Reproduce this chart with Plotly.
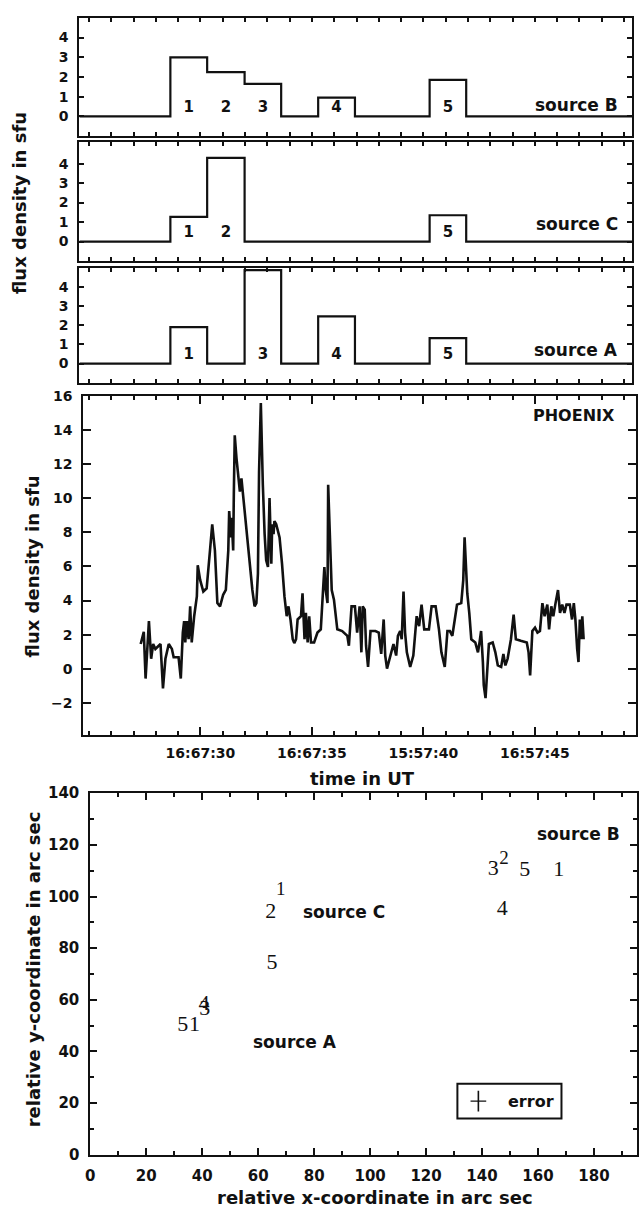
import plotly.graph_objects as go

# ---------------------------------------------------------------------------
# Time axis: seconds after 16:57:00 UT
# ---------------------------------------------------------------------------
interval_names = ["1", "2", "3", "4", "5"]
interval_start = [28.65, 30.30, 31.98, 35.28, 40.28]
interval_end = [30.30, 31.98, 33.62, 36.93, 41.92]

# Mean flux density (sfu) of each source in each interval
flux_B = [3.00, 2.25, 1.65, 0.95, 1.85]
flux_C = [1.27, 4.30, 0.00, 0.00, 1.35]
flux_A = [1.90, 0.00, 4.87, 2.46, 1.33]

# PHOENIX total flux density (sfu)
phoenix_t = [
    27.32, 27.43, 27.46, 27.54, 27.61, 27.69, 27.79, 27.88, 27.98, 28.21,
    28.32, 28.43, 28.58, 28.72, 28.80, 29.02, 29.12, 29.21, 29.27, 29.32,
    29.39, 29.47, 29.54, 29.61, 29.72, 29.84, 29.88, 29.99, 30.13, 30.28,
    30.43, 30.53, 30.65, 30.76, 30.88, 31.02, 31.14, 31.25, 31.29, 31.37,
    31.40, 31.47, 31.50, 31.54, 31.62, 31.69, 31.77, 31.84, 31.91, 31.99,
    32.06, 32.21, 32.33, 32.43, 32.51, 32.58, 32.63, 32.71, 32.76, 32.80,
    32.88, 32.95, 33.03, 33.10, 33.18, 33.22, 33.28, 33.32, 33.40, 33.55,
    33.66, 33.77, 33.87, 33.95, 34.04, 34.14, 34.21, 34.29, 34.36, 34.51,
    34.58, 34.67, 34.73, 34.81, 34.88, 34.96, 35.10, 35.25, 35.40, 35.50,
    35.56, 35.62, 35.70, 35.73, 35.82, 35.89, 35.99, 36.14, 36.36, 36.59,
    36.66, 36.78, 36.93, 37.03, 37.14, 37.22, 37.28, 37.37, 37.43, 37.52,
    37.63, 37.85, 38.00, 38.11, 38.22, 38.29, 38.37, 38.51, 38.66, 38.78,
    38.86, 38.96, 39.03, 39.11, 39.18, 39.26, 39.41, 39.55, 39.70, 39.81,
    39.92, 40.04, 40.25, 40.37, 40.55, 40.70, 40.81, 40.96, 41.08, 41.19,
    41.30, 41.41, 41.51, 41.70, 41.79, 41.85, 41.93, 41.97, 42.06, 42.15,
    42.33, 42.45, 42.52, 42.59, 42.67, 42.71, 42.79, 42.85, 42.94, 43.11,
    43.23, 43.34, 43.49, 43.59, 43.68, 43.78, 43.93, 44.05, 44.15, 44.37,
    44.64, 44.72, 44.79, 44.89, 45.01, 45.12, 45.23, 45.34, 45.44, 45.56,
    45.64, 45.74, 45.83, 45.93, 46.04, 46.13, 46.23, 46.33, 46.42, 46.57,
    46.67, 46.75, 46.82, 46.90, 46.96, 47.02, 47.08, 47.13, 47.19,
]
phoenix_flux = [
    1.45, 2.12, 2.16, -0.58, 1.35, 2.79, 0.58, 1.45, 1.16, 1.45,
    -1.16, 0.58, 1.45, 1.16, 0.67, 0.67, -0.58, 2.12, 2.79, 1.54,
    2.79, 1.73, 3.66, 1.54, 3.08, 4.24, 6.07, 5.20, 4.53, 4.72,
    6.94, 8.48, 6.94, 3.85, 3.66, 4.34, 4.62, 6.94, 9.25, 7.71,
    8.86, 6.94, 10.40, 13.70, 12.33, 11.37, 10.40, 11.18, 10.21, 9.06,
    7.90, 6.17, 4.62, 3.66, 3.85, 5.59, 11.56, 15.60, 11.75, 10.79,
    7.90, 6.36, 5.97, 10.02, 6.17, 8.48, 7.90, 8.67, 8.48, 7.71,
    6.17, 4.24, 3.08, 3.66, 2.89, 1.73, 1.50, 1.73, 2.89, 3.08,
    4.43, 1.73, 3.28, 1.54, 3.08, 1.54, 1.54, 2.12, 2.31, 4.62,
    5.97, 4.62, 3.85, 10.80, 7.51, 4.62, 4.05, 2.31, 2.21, 1.93,
    1.35, 3.66, 3.66, 2.12, 3.66, 0.96, 3.66, 3.47, 1.35, 0.10,
    2.21, 2.21, 2.12, 0.87, 2.89, 0.77, 0.00, 0.77, 1.45, 0.77,
    1.93, 2.21, 1.73, 4.53, 2.12, 0.96, 0.10, 0.77, 3.08, 2.50,
    3.76, 2.31, 2.31, 3.66, 3.66, 2.31, 0.96, 0.10, 2.21, 2.21,
    1.93, 2.89, 3.76, 3.85, 5.20, 7.71, 5.97, 4.43, 3.28, 1.73,
    1.54, 0.96, 1.54, 2.21, 0.39, -0.96, -1.73, -0.19, 1.45, 1.54,
    0.96, 0.19, 0.10, 0.87, 0.19, 0.58, 1.73, 3.18, 1.73, 1.64,
    1.54, 0.96, -0.39, 2.21, 2.41, 2.12, 2.21, 3.85, 3.08, 3.76,
    2.31, 3.66, 3.08, 3.85, 4.62, 3.28, 3.76, 3.28, 3.76, 3.76,
    2.89, 3.85, 2.89, 1.16, 0.39, 2.89, 1.73, 3.08, 1.73,
]

time_tickvals = [30, 35, 40, 45]
time_ticktext = ["16:67:30", "16:67:35", "15:57:40", "16:57:45"]

# Source positions (arc sec) for each interval in which the source emits
pos_A_label = ["1", "3", "4", "5"]
pos_A_x = [37.2, 40.9, 40.6, 33.0]
pos_A_y = [50.1, 56.4, 58.3, 50.1]

pos_B_label = ["1", "2", "3", "4", "5"]
pos_B_x = [167.4, 147.9, 144.0, 147.2, 155.3]
pos_B_y = [110.1, 114.3, 110.5, 94.8, 110.1]

pos_C_label = ["1", "2", "5"]
pos_C_x = [68.1, 64.5, 64.9]
pos_C_y = [102.5, 93.7, 74.2]

# ---------------------------------------------------------------------------
SANS = "DejaVu Sans"
SERIF = "Liberation Serif"
BLACK = "#111111"
T_MIN_TOP, T_MAX_TOP = 24.57, 49.36
T_MIN_PH, T_MAX_PH = 24.75, 49.54


def step_series(values, t_min, t_max):
    """Piecewise-constant light curve built from the interval table."""
    breaks = {}
    for s, e, v in zip(interval_start, interval_end, values):
        breaks[round(e, 3)] = breaks.get(round(e, 3), 0.0)
        breaks[round(s, 3)] = v
    xs, ys = [t_min], [0.0]
    for t in sorted(breaks):
        xs.append(t)
        ys.append(breaks[t])
    xs.append(t_max)
    ys.append(0.0)
    return xs, ys


W, H = 639, 1217


def px_x(p):
    return p / W


def px_y(p):
    return 1 - p / H


fig = go.Figure()

panels = [("B", flux_B, "x", "y"), ("C", flux_C, "x2", "y2"), ("A", flux_A, "x3", "y3")]
for name, vals, xa, ya in panels:
    xs, ys = step_series(vals, T_MIN_TOP, T_MAX_TOP)
    fig.add_trace(go.Scatter(x=xs, y=ys, mode="lines", line_shape="hv",
                             line=dict(color=BLACK, width=2.2),
                             xaxis=xa, yaxis=ya, showlegend=False, hoverinfo="skip"))
    lab_x = [(s + e) / 2 for s, e, v in zip(interval_start, interval_end, vals) if v > 0]
    lab_t = [n for n, v in zip(interval_names, vals) if v > 0]
    fig.add_trace(go.Scatter(x=lab_x, y=[0.42] * len(lab_x), mode="text", text=lab_t,
                             textfont=dict(family=SANS, size=15, color=BLACK, weight="bold"),
                             xaxis=xa, yaxis=ya, showlegend=False, hoverinfo="skip"))

fig.add_trace(go.Scatter(x=phoenix_t, y=phoenix_flux, mode="lines",
                         line=dict(color=BLACK, width=2.6),
                         xaxis="x4", yaxis="y4", showlegend=False, hoverinfo="skip"))

for labels, xs, ys, small in [
    (pos_A_label, pos_A_x, pos_A_y, set()),
    (pos_B_label, pos_B_x, pos_B_y, {"2"}),
    (pos_C_label, pos_C_x, pos_C_y, {"1"}),
]:
    sizes = [19 if lab in small else 22 for lab in labels]
    fig.add_trace(go.Scatter(x=xs, y=ys, mode="text", text=labels,
                             textfont=dict(family=SERIF, size=sizes, color=BLACK),
                             xaxis="x5", yaxis="y5", showlegend=False, hoverinfo="skip"))

# error indicator inside the key box
fig.add_trace(go.Scatter(x=[138.7], y=[20.8], mode="markers",
                         marker=dict(size=1, color=BLACK),
                         error_y=dict(type="data", array=[4.0], color=BLACK, thickness=1.6, width=0),
                         error_x=dict(type="data", array=[2.8], color=BLACK, thickness=1.2, width=0),
                         xaxis="x5", yaxis="y5", showlegend=False, hoverinfo="skip"))

tick_font = dict(family=SANS, size=14, color=BLACK, weight="bold")
frame = dict(showline=True, linecolor=BLACK, linewidth=2, mirror="allticks",
             ticks="inside", tickcolor=BLACK, tickwidth=1.5, showgrid=False, zeroline=False)


def top_x(dom_y_anchor):
    return dict(frame, domain=[px_x(75), px_x(632)], range=[T_MIN_TOP, T_MAX_TOP],
                tickmode="linear", tick0=0, dtick=1, ticklen=4, showticklabels=False,
                anchor=dom_y_anchor)


def top_y(top, bottom, rng, anchor):
    return dict(frame, domain=[px_y(bottom), px_y(top)], range=rng,
                tickmode="array", tickvals=[0, 1, 2, 3, 4], ticklen=5,
                tickfont=tick_font, ticklabelstandoff=6, anchor=anchor)


fig.update_layout(
    width=W, height=H, margin=dict(l=0, r=0, t=0, b=0),
    paper_bgcolor="white", plot_bgcolor="white",
    xaxis=top_x("y"),
    yaxis=top_y(9, 129, [-1.0, 5.0], "x"),
    xaxis2=top_x("y2"),
    yaxis2=top_y(135, 256, [-1.01, 5.11], "x2"),
    xaxis3=top_x("y3"),
    yaxis3=top_y(263, 380, [-1.03, 4.97], "x3"),
    xaxis4=dict(frame, domain=[px_x(79), px_x(636)], range=[T_MIN_PH, T_MAX_PH],
                tickmode="array", tickvals=time_tickvals, ticktext=time_ticktext,
                ticklen=8, tickfont=dict(tick_font, size=14), ticklabelstandoff=4,
                minor=dict(tickmode="linear", tick0=0, dtick=1, ticks="inside",
                           ticklen=4, tickcolor=BLACK, tickwidth=1.5),
                anchor="y4"),
    yaxis4=dict(frame, domain=[px_y(737), px_y(393)], range=[-3.9, 16],
                tickmode="array", tickvals=list(range(-2, 17, 2)), ticklen=8,
                tickfont=tick_font, ticklabelstandoff=6, anchor="x4"),
    xaxis5=dict(frame, domain=[px_x(86), px_x(637)], range=[0, 195.4],
                tickmode="array", tickvals=list(range(0, 181, 20)), ticklen=7,
                tickfont=dict(tick_font, size=15), ticklabelstandoff=6,
                minor=dict(tickmode="linear", tick0=0, dtick=10, ticks="inside",
                           ticklen=4, tickcolor=BLACK, tickwidth=1.5),
                anchor="y5"),
    yaxis5=dict(frame, domain=[px_y(1163), px_y(796)], range=[0, 140],
                tickmode="array", tickvals=list(range(0, 141, 20)), ticklen=7,
                tickfont=dict(tick_font, size=15), ticklabelstandoff=6,
                minor=dict(tickmode="linear", tick0=0, dtick=10, ticks="inside",
                           ticklen=4, tickcolor=BLACK, tickwidth=1.5),
                anchor="x5"),
)

title_font = dict(family=SANS, size=18, color=BLACK, weight="bold")
label_font = dict(family=SANS, size=17, color=BLACK, weight="bold")

annotations = [
    dict(text="flux density in sfu", xref="paper", yref="paper", x=px_x(14), y=px_y(197),
         textangle=-90, font=title_font),
    dict(text="flux density in sfu", xref="paper", yref="paper", x=px_x(28), y=px_y(566),
         textangle=-90, font=title_font),
    dict(text="time in UT", xref="paper", yref="paper", x=px_x(360), y=px_y(781),
         font=title_font),
    dict(text="relative x-coordinate in arc sec", xref="paper", yref="paper",
         x=px_x(373), y=px_y(1206), font=title_font),
    dict(text="relative y-coordinate in arc sec", xref="paper", yref="paper",
         x=px_x(29), y=px_y(975), textangle=-90, font=title_font),
    # panel names
    dict(text="source B", xref="x", yref="y", x=48.8, y=0.6, xanchor="right", font=label_font),
    dict(text="source C", xref="x2", yref="y2", x=48.8, y=0.91, xanchor="right", font=label_font),
    dict(text="source A", xref="x3", yref="y3", x=48.8, y=0.72, xanchor="right", font=label_font),
    dict(text="PHOENIX", xref="x4", yref="y4", x=48.7, y=14.86, xanchor="right",
         font=dict(label_font, size=16)),
    # source names in the position map
    dict(text="source A", xref="x5", yref="y5", x=73.0, y=43.6, font=label_font),
    dict(text="source C", xref="x5", yref="y5", x=90.8, y=94.1, font=label_font),
    dict(text="source B", xref="x5", yref="y5", x=174.5, y=124.3, font=label_font),
    dict(text="error", xref="x5", yref="y5", x=157.4, y=20.8, font=dict(label_font, size=16)),
]
for a in annotations:
    a.setdefault("xanchor", "center")
    a["yanchor"] = "middle"
    a["showarrow"] = False
fig.update_layout(annotations=annotations)

fig.add_shape(type="rect", xref="x5", yref="y5", x0=131.2, x1=168.4, y0=14.1, y1=27.5,
              line=dict(color=BLACK, width=2), fillcolor="rgba(0,0,0,0)")

fig.write_html("out.html")
